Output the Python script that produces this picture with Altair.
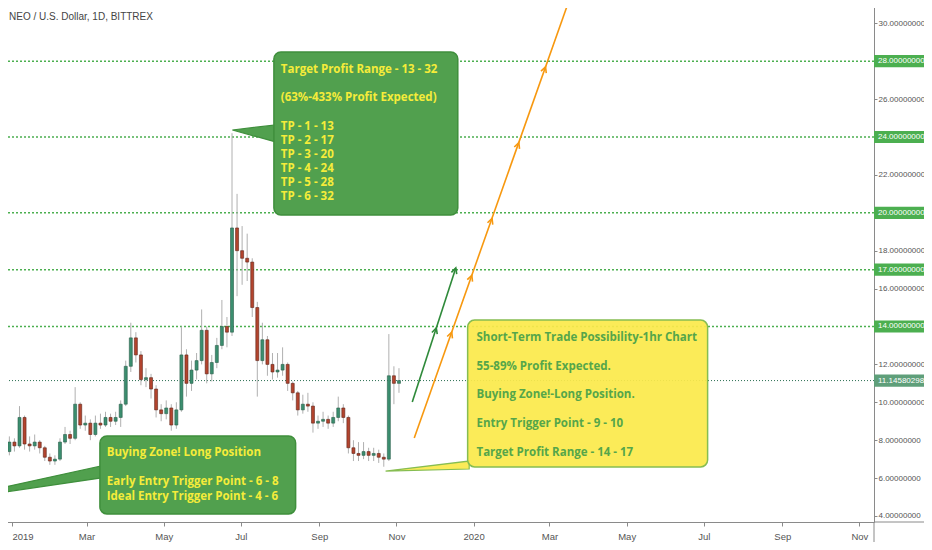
import altair as alt
import pandas as pd

# ---------------- data ----------------
TITLE = "NEO / U.S. Dollar, 1D, BITTREX"
CANDLE_START = "2018-12-26"
CANDLE_STEP_DAYS = 4
FIRST_OPEN = 7.6
closes = [7.4, 7.9, 7.7, 9.2, 7.8, 7.7, 7.9, 7.6, 7.1, 6.9,
          7.0, 7.9, 8.3, 8.1, 9.9, 8.8, 8.9, 8.3, 8.9, 8.8,
          9.2, 9.0, 9.2, 9.9, 11.9, 13.4, 12.5, 11.2, 11.3, 10.7,
          9.6, 9.4, 9.7, 8.8, 9.6, 12.5, 11.0, 11.7, 12.2, 13.8,
          11.5, 12.1, 13.0, 14.0, 13.7, 19.2, 18.0, 17.6, 17.4, 15.0,
          12.2, 13.3, 12.0, 11.6, 11.7, 12.0, 11.0, 10.5, 9.6, 9.9,
          9.8, 8.9, 9.0, 9.1, 8.9, 9.2, 9.7, 9.2, 7.6, 7.3,
          7.2, 7.4, 7.2, 7.3, 7.1, 7.0, 11.4, 11.0, 11.14580298]
highs = [7.9, 8.2, 8.1, 9.8, 9.3, 8.2, 8.3, 8.0, 7.7, 7.3,
         7.2, 8.1, 8.7, 8.5, 10.8, 10.0, 9.3, 9.1, 9.3, 9.4,
         9.5, 9.4, 9.5, 10.1, 12.2, 14.2, 13.7, 12.7, 11.8, 11.5,
         10.9, 9.9, 10.1, 9.9, 10.0, 14.0, 12.8, 12.2, 12.6, 14.9,
         14.0, 12.5, 13.4, 15.4, 14.5, 24.2, 21.0, 19.3, 18.9, 17.6,
         15.3, 14.2, 13.5, 12.6, 12.6, 12.9, 12.1, 11.1, 10.6, 10.4,
         10.5, 10.0, 9.3, 9.5, 9.3, 9.5, 10.3, 9.9, 9.3, 8.0,
         7.9, 7.9, 7.6, 7.6, 7.5, 7.3, 13.6, 11.9, 11.8]
lows = [7.1, 7.2, 7.4, 7.6, 7.5, 7.4, 7.5, 7.3, 6.9, 6.7,
        6.7, 6.9, 7.8, 7.8, 8.0, 8.6, 8.5, 8.0, 8.2, 8.6,
        8.7, 8.7, 8.8, 8.7, 9.8, 11.6, 12.1, 10.9, 10.8, 10.2,
        9.2, 9.0, 9.1, 8.5, 8.6, 9.5, 10.3, 10.6, 11.2, 12.0,
        11.0, 11.1, 11.8, 12.8, 12.9, 13.5, 15.6, 16.2, 16.4, 14.5,
        10.3, 12.0, 11.4, 11.2, 11.3, 11.4, 10.6, 10.1, 9.3, 9.4,
        9.5, 8.4, 8.6, 8.7, 8.6, 8.7, 9.0, 8.9, 7.3, 6.9,
        6.9, 7.0, 6.9, 6.9, 6.8, 6.6, 6.9, 9.9, 10.5]

target_levels = [14, 17, 20, 24, 28]
last_price = 11.14580298
y_tick_values = [4, 6, 8, 10, 12, 16, 18, 22, 26, 30]
x_tick_dates = ["2019-01-01", "2019-03-01", "2019-05-01", "2019-07-01", "2019-09-01", "2019-11-01",
                "2020-01-01", "2020-03-01", "2020-05-01", "2020-07-01", "2020-09-01", "2020-11-01"]

# callout 1 (targets)
tp_box_dates = ["2019-07-27T03:00", "2019-12-19T12:00"]
tp_box_prices = [28.49, 19.88]
tp_pointer_dates = ["2019-06-24T07:00", "2019-07-28T12:00"]
tp_pointer_top = [24.37, 24.64]
tp_pointer_bottom = [24.37, 23.74]
tp_text_date = "2019-08-01T14:00"
tp_lines = ["Target Profit Range - 13 - 32", "(63%-433% Profit Expected)",
            "TP - 1 - 13", "TP - 2 - 17", "TP - 3 - 20", "TP - 4 - 24", "TP - 5 - 28", "TP - 6 - 32"]
tp_line_prices = [27.54, 26.06, 24.53, 23.79, 23.05, 22.31, 21.57, 20.83]

# callout 2 (short-term, yellow)
st_box_dates = ["2019-12-27T07:00", "2020-07-04T00:00"]
st_box_prices = [14.34, 6.59]
st_pointer_dates = ["2019-10-23T10:00", "2019-12-28T12:00"]
st_pointer_top = [6.37, 6.90]
st_pointer_bottom = [6.37, 6.48]
st_text_date = "2020-01-03T07:00"
st_lines = ["Short-Term Trade Possibility-1hr Chart", "55-89% Profit Expected.",
            "Buying Zone!-Long Position.", "Entry Trigger Point - 9 - 10",
            "Target Profit Range - 14 - 17"]
st_line_prices = [13.39, 11.86, 10.39, 8.85, 7.32]

# callout 3 (buying zone)
bz_box_dates = ["2019-03-11T14:00", "2019-08-13T07:00"]
bz_box_prices = [8.22, 4.11]
bz_pointer_dates = ["2018-11-02T14:00", "2019-03-12T12:00"]
bz_pointer_top = [4.74, 6.64]
bz_pointer_bottom = [4.74, 6.01]
bz_text_date = "2019-03-17T00:00"
bz_lines = ["Buying Zone! Long Position", "Early Entry Trigger Point - 6 - 8",
            "Ideal Entry Trigger Point - 4 - 6"]
bz_line_prices = [7.32, 5.79, 5.00]

# projection arrows
green_arrow_dates = ["2019-11-13T12:00", "2019-12-17T22:00"]
green_arrow_prices = [10.02, 17.09]
green_chevron_dates = ["2019-12-02T12:00", "2019-12-17T22:00"]
green_chevron_prices = [13.92, 17.09]
orange_arrow_dates = ["2019-11-15T02:00", "2020-03-22T05:00"]
orange_arrow_prices = [8.12, 32.29]
orange_chevron_dates = ["2019-12-14T17:00", "2019-12-30T14:00", "2020-01-15T14:00",
                        "2020-02-05T18:00", "2020-02-26T21:00"]
orange_chevron_prices = [13.7, 16.7, 19.7, 23.7, 27.7]

# ---------------- styling ----------------
W, H = 874, 522
SANS = "Liberation Sans, Arial, sans-serif"
CALLOUT_FONT = "Open Sans, Lato, sans-serif"
X_SCALE = alt.Scale(domain=[alt.DateTime(year=2018, month=12, date=26, hours=13),
                            alt.DateTime(year=2020, month=11, date=8, hours=14)], nice=False)
Y_SCALE = alt.Scale(domain=[3.683, 31.23], nice=False, zero=False)
CHEVRON = "M-0.7,1.4 L0,0 L0.7,1.4"
BOX_SHAPE = "M-1,-0.21 L1,-0.21 L1,0.21 L-1,0.21 Z"

X_AXIS = alt.Axis(values=[alt.DateTime(year=int(d[:4]), month=int(d[5:7]), date=1) for d in x_tick_dates],
                  labelExpr="month(datum.value) == 0 ? timeFormat(datum.value, '%Y') : timeFormat(datum.value, '%b')",
                  labelAlign={"condition": {"test": "year(datum.value) == 2019 && month(datum.value) == 0",
                                            "value": "left"}, "value": "center"},
                  title=None, grid=False, domainColor="#8a8a8a", tickColor="#8a8a8a", tickSize=4,
                  labelColor="#555555", labelFont=SANS, labelFontSize=9.5, labelPadding=5,
                  labelOverlap=False, labelFlush=False)
Y_AXIS = alt.Axis(orient="right", values=y_tick_values, format=".8f", title=None, grid=False,
                  domainColor="#8a8a8a", tickColor="#8a8a8a", tickSize=3, labelPadding=1,
                  labelColor="#555555", labelFont=SANS, labelFontSize=8)


def X(field):
    return alt.X(field, scale=X_SCALE, axis=X_AXIS)


def Y(field):
    return alt.Y(field, scale=Y_SCALE, axis=Y_AXIS)


# ---------------- frames / layers ----------------
dates = pd.date_range(CANDLE_START, periods=len(closes), freq=f"{CANDLE_STEP_DAYS}D")
opens = [FIRST_OPEN] + closes[:-1]
candles = pd.DataFrame({"date": dates, "open": opens, "close": closes, "high": highs, "low": lows})
up = candles[candles["close"] >= candles["open"]]
down = candles[candles["close"] < candles["open"]]

wicks = alt.Chart(candles).mark_rule(color="#b0b0b0", strokeWidth=1).encode(
    x=X("date:T"), y=Y("low:Q"), y2="high:Q")
bodies_up = alt.Chart(up).mark_bar(width=3, color="#3b8e6f", stroke="#2a5e4a", strokeWidth=0.6).encode(
    x=X("date:T"), y=Y("open:Q"), y2="close:Q")
bodies_down = alt.Chart(down).mark_bar(width=3, color="#b3442e", stroke="#5e2418", strokeWidth=0.6).encode(
    x=X("date:T"), y=Y("open:Q"), y2="close:Q")

levels_df = pd.DataFrame({"price": target_levels})
level_rules = alt.Chart(levels_df).mark_rule(color="#4caf50", strokeDash=[2, 2], strokeWidth=1.5).encode(
    y=Y("price:Q"))

last_df = pd.DataFrame({"price": [last_price]})
last_rule = alt.Chart(last_df).mark_rule(color="#2b6e52", strokeDash=[1, 2], strokeWidth=1).encode(
    y=Y("price:Q"))


def line_layer(ds, ps, color):
    df = pd.DataFrame({"date": pd.to_datetime(ds), "price": ps})
    return alt.Chart(df).mark_line(color=color, strokeWidth=1.6, clip=True).encode(
        x=X("date:T"), y=Y("price:Q"))


def chevron_layer(ds, ps, color, angle):
    df = pd.DataFrame({"date": pd.to_datetime(ds), "price": ps})
    return alt.Chart(df).mark_point(shape=CHEVRON, size=64, angle=angle, filled=False,
                                    stroke=color, strokeWidth=1.6, opacity=1).encode(
        x=X("date:T"), y=Y("price:Q"))


def callout(box_d, box_p, ptr_d, ptr_top, ptr_bot, txt_d, lines, line_p, fill, border, txt_color, opacity):
    ptr = pd.DataFrame({"date": pd.to_datetime(ptr_d), "top": ptr_top, "bottom": ptr_bot})
    pointer = alt.Chart(ptr).mark_area(color=fill, stroke=border, strokeWidth=1.2, opacity=1,
                                       fillOpacity=opacity, clip=True).encode(
        x=X("date:T"), y=Y("top:Q"), y2="bottom:Q")
    box_df = pd.DataFrame({"d1": [pd.Timestamp(box_d[0])], "d2": [pd.Timestamp(box_d[1])],
                           "p1": [box_p[0]], "p2": [box_p[1]]})
    box = alt.Chart(box_df).mark_rect(color=fill, stroke=border, strokeWidth=1.5, cornerRadius=7,
                                      fillOpacity=opacity).encode(
        x=X("d1:T"), x2="d2:T", y=Y("p1:Q"), y2="p2:Q")
    txt_df = pd.DataFrame({"date": pd.Timestamp(txt_d), "price": line_p, "label": lines})
    text = alt.Chart(txt_df).mark_text(align="left", baseline="middle", font=CALLOUT_FONT,
                                       fontSize=11.5, fontWeight="bold", color=txt_color).encode(
        x=X("date:T"), y=Y("price:Q"), text="label:N")
    return [pointer, box, text]


tp = callout(tp_box_dates, tp_box_prices, tp_pointer_dates, tp_pointer_top, tp_pointer_bottom,
             tp_text_date, tp_lines, tp_line_prices, "#51a04e", "#3f8f3c", "#f5ec3a", 1)
st = callout(st_box_dates, st_box_prices, st_pointer_dates, st_pointer_top, st_pointer_bottom,
             st_text_date, st_lines, st_line_prices, "#fbe94b", "#86bd52", "#55a64a", 0.93)
bz = callout(bz_box_dates, bz_box_prices, bz_pointer_dates, bz_pointer_top, bz_pointer_bottom,
             bz_text_date, bz_lines, bz_line_prices, "#51a04e", "#3f8f3c", "#f5ec3a", 1)


def tag_layers(df, fill):
    box = alt.Chart(df).mark_point(shape=BOX_SHAPE, size=58 * 58, filled=True, opacity=1,
                                   strokeWidth=0, color=fill).encode(
        x=alt.value(W + 29), y=Y("price:Q"))
    txt = alt.Chart(df).mark_text(align="left", baseline="middle", font=SANS, fontSize=8,
                                  color="white").encode(
        x=alt.value(W + 4), y=Y("price:Q"), text=alt.Text("price:Q", format=".8f"))
    return [box, txt]


target_tags = tag_layers(levels_df, "#4caf50")
last_tags = tag_layers(last_df, "#5f9f7a")

deco_df = pd.DataFrame({"k": [0]})
sep_h = alt.Chart(deco_df).mark_rule(color="#8a8a8a", strokeWidth=1).encode(
    x=alt.value(W), x2=alt.value(W + 80), y=alt.value(H))
sep_v = alt.Chart(deco_df).mark_rule(color="#8a8a8a", strokeWidth=1).encode(
    x=alt.value(W), y=alt.value(H), y2=alt.value(H + 40))

title_df = pd.DataFrame({"label": [TITLE]})
title = alt.Chart(title_df).mark_text(align="left", baseline="middle", font=SANS, fontSize=10,
                                      color="#444444").encode(
    x=alt.value(9), y=alt.value(17), text="label:N")

layers = [level_rules, last_rule, wicks, bodies_up, bodies_down,
          line_layer(green_arrow_dates, green_arrow_prices, "#2f8a3a"),
          chevron_layer(green_chevron_dates, green_chevron_prices, "#2f8a3a", 18),
          line_layer(orange_arrow_dates, orange_arrow_prices, "#f7980f"),
          chevron_layer(orange_chevron_dates, orange_chevron_prices, "#f7980f", 20),
          *tp, *st, *bz, *target_tags, *last_tags, sep_h, sep_v, title]

chart = alt.layer(*layers).properties(
    width=W, height=H,
    autosize=alt.AutoSizeParams(type="none"),
    padding={"left": -8, "top": -8, "right": 50, "bottom": 20},
    background="white",
).configure_view(stroke=None)

chart.save("out.html", embed_options={"renderer": "svg", "actions": False})
